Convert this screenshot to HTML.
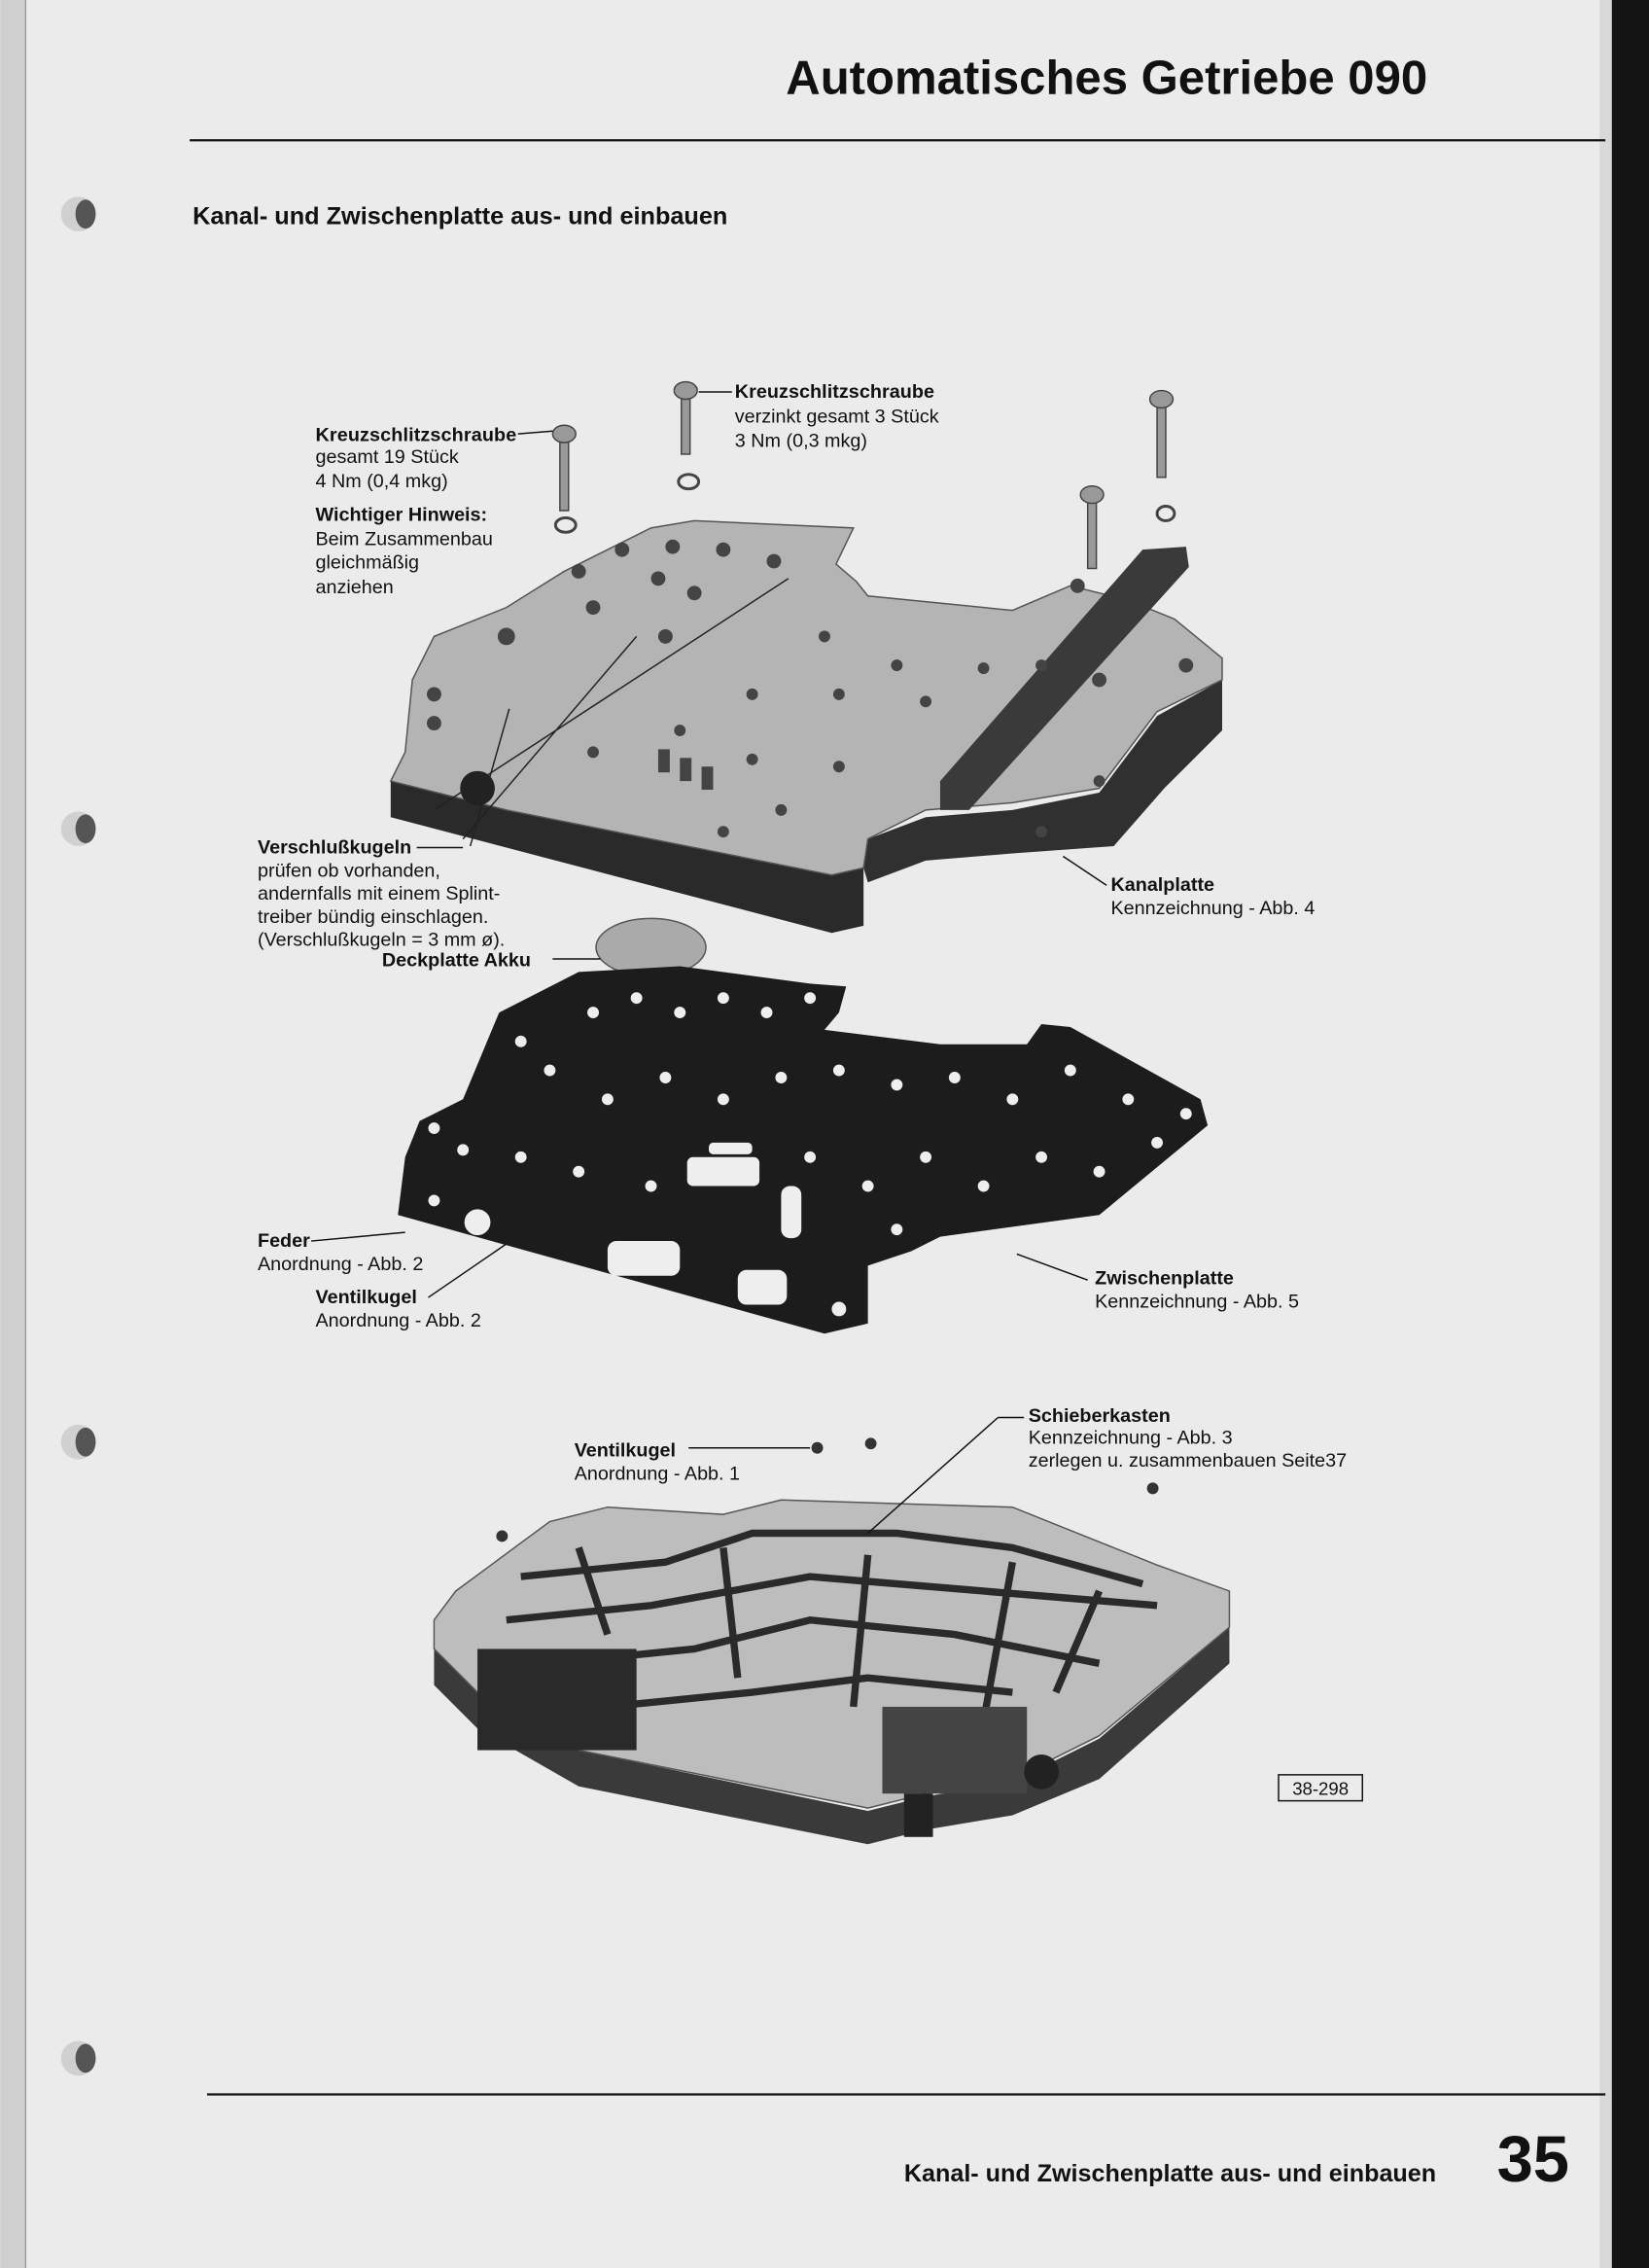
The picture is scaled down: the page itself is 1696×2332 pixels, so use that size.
<!DOCTYPE html>
<html><head><meta charset="utf-8"><style>
html,body{margin:0;padding:0;background:#e9e9e9;}
svg{display:block;}
text{font-family:"Liberation Sans",sans-serif;fill:#111;}
.b{font-weight:bold;}
</style></head><body>
<svg width="1696" height="2332" viewBox="0 0 1140 1568" xmlns="http://www.w3.org/2000/svg">
<rect x="0" y="0" width="1140" height="1568" fill="#ebebeb"/>
<rect x="0" y="0" width="17" height="1568" fill="#cfcfcf"/>
<line x1="17.5" y1="0" x2="17.5" y2="1568" stroke="#888" stroke-width="0.8"/>
<rect x="1106" y="0" width="9" height="1568" fill="#d8d8d8"/>
<rect x="1114.5" y="0" width="26" height="1568" fill="#141414"/>
<g>
<circle cx="54" cy="148" r="12" fill="#d0d0d0"/><ellipse cx="59" cy="148" rx="7" ry="10" fill="#555"/>
<circle cx="54" cy="573" r="12" fill="#d0d0d0"/><ellipse cx="59" cy="573" rx="7" ry="10" fill="#555"/>
<circle cx="54" cy="997" r="12" fill="#d0d0d0"/><ellipse cx="59" cy="997" rx="7" ry="10" fill="#555"/>
<circle cx="54" cy="1423" r="12" fill="#d0d0d0"/><ellipse cx="59" cy="1423" rx="7" ry="10" fill="#555"/>
</g>
<text x="987" y="65" text-anchor="end" class="b" font-size="33">Automatisches Getriebe 090</text>
<line x1="131" y1="97" x2="1110" y2="97" stroke="#111" stroke-width="1.5"/>
<text x="133" y="155" class="b" font-size="17">Kanal- und Zwischenplatte aus- und einbauen</text>

<polygon points="270,540 270,565 575,645 597,640 597,600 575,605" fill="#2a2a2a"/>
<polygon points="597,600 600,580 640,565 700,560 760,548 800,495 845,470 845,505 805,545 770,585 700,590 640,595 600,610" fill="#303030"/>
<polygon points="285,470 300,440 350,420 390,395 450,365 480,360 590,365 578,390 592,402 600,412 700,422 740,405 780,415 812,428 845,455 845,470 800,492 760,545 700,555 640,560 600,580 597,600 575,605 350,560 270,540 280,520" fill="#b4b4b4" stroke="#555" stroke-width="1"/>
<polygon points="790,380 820,378 822,392 670,560 650,560 650,540" fill="#3a3a3a"/>
<line x1="300" y1="560" x2="545" y2="400" stroke="#222" stroke-width="1"/>
<line x1="320" y1="580" x2="440" y2="440" stroke="#222" stroke-width="1"/>
<line x1="325" y1="585" x2="352" y2="490" stroke="#222" stroke-width="1"/>
<circle cx="330" cy="545" r="12" fill="#222"/>
<g fill="#444">
<circle cx="400" cy="395" r="5"/><circle cx="430" cy="380" r="5"/><circle cx="465" cy="378" r="5"/><circle cx="500" cy="380" r="5"/><circle cx="535" cy="388" r="5"/>
<circle cx="410" cy="420" r="5"/><circle cx="455" cy="400" r="5"/><circle cx="480" cy="410" r="5"/><circle cx="350" cy="440" r="6"/><circle cx="300" cy="480" r="5"/>
<circle cx="300" cy="500" r="5"/><circle cx="460" cy="440" r="5"/><circle cx="570" cy="440" r="4"/><circle cx="620" cy="460" r="4"/><circle cx="680" cy="462" r="4"/>
<circle cx="580" cy="480" r="4"/><circle cx="640" cy="485" r="4"/><circle cx="520" cy="480" r="4"/><circle cx="410" cy="520" r="4"/><circle cx="470" cy="505" r="4"/>
<circle cx="520" cy="525" r="4"/><circle cx="580" cy="530" r="4"/><circle cx="540" cy="560" r="4"/><circle cx="500" cy="575" r="4"/><circle cx="720" cy="460" r="4"/>
<circle cx="760" cy="470" r="5"/><circle cx="820" cy="460" r="5"/><circle cx="760" cy="540" r="4"/><circle cx="720" cy="575" r="4"/><circle cx="745" cy="405" r="5"/>
<rect x="455" y="518" width="8" height="16"/><rect x="470" y="524" width="8" height="16"/><rect x="485" y="530" width="8" height="16"/>
</g>
<g fill="#999" stroke="#444" stroke-width="1">
<rect x="387" y="305" width="6" height="48"/><ellipse cx="390" cy="300" rx="8" ry="6"/><ellipse cx="391" cy="363" rx="7" ry="5" fill="none" stroke-width="2"/>
<rect x="471" y="272" width="6" height="42"/><ellipse cx="474" cy="270" rx="8" ry="6"/><ellipse cx="476" cy="333" rx="7" ry="5" fill="none" stroke-width="2"/>
<rect x="800" y="280" width="6" height="50"/><ellipse cx="803" cy="276" rx="8" ry="6"/><ellipse cx="806" cy="355" rx="6" ry="5" fill="none" stroke-width="2"/>
<rect x="752" y="345" width="6" height="48"/><ellipse cx="755" cy="342" rx="8" ry="6"/>
</g>
<ellipse cx="450" cy="655" rx="38" ry="20" fill="#aaa" stroke="#555"/>

<polygon points="290,775 320,760 345,700 400,672 470,668 560,680 585,682 580,700 570,712 650,722 710,722 720,708 740,710 830,760 835,778 760,840 650,855 630,865 600,875 600,915 570,922 275,840 280,800" fill="#1c1c1c"/>
<g fill="#eee">
<circle cx="330" cy="845" r="9"/><circle cx="300" cy="780" r="4"/><circle cx="320" cy="795" r="4"/><circle cx="360" cy="720" r="4"/><circle cx="380" cy="740" r="4"/>
<circle cx="410" cy="700" r="4"/><circle cx="440" cy="690" r="4"/><circle cx="470" cy="700" r="4"/><circle cx="500" cy="690" r="4"/><circle cx="530" cy="700" r="4"/>
<circle cx="560" cy="690" r="4"/><circle cx="420" cy="760" r="4"/><circle cx="460" cy="745" r="4"/><circle cx="500" cy="760" r="4"/><circle cx="540" cy="745" r="4"/>
<circle cx="580" cy="740" r="4"/><circle cx="620" cy="750" r="4"/><circle cx="660" cy="745" r="4"/><circle cx="700" cy="760" r="4"/><circle cx="740" cy="740" r="4"/>
<circle cx="780" cy="760" r="4"/><circle cx="820" cy="770" r="4"/><circle cx="800" cy="790" r="4"/><circle cx="760" cy="810" r="4"/><circle cx="720" cy="800" r="4"/>
<circle cx="680" cy="820" r="4"/><circle cx="640" cy="800" r="4"/><circle cx="600" cy="820" r="4"/><circle cx="560" cy="800" r="4"/><circle cx="450" cy="820" r="4"/>
<circle cx="400" cy="810" r="4"/><circle cx="360" cy="800" r="4"/><circle cx="620" cy="850" r="4"/><circle cx="580" cy="905" r="5"/><circle cx="300" cy="830" r="4"/>
<rect x="475" y="800" width="50" height="20" rx="4"/><rect x="540" y="820" width="14" height="36" rx="6"/><rect x="420" y="858" width="50" height="24" rx="6"/><rect x="510" y="878" width="34" height="24" rx="6"/>
<rect x="490" y="790" width="30" height="8" rx="3"/>
</g>

<polygon points="300,1140 330,1170 400,1210 600,1252 640,1242 700,1232 760,1202 850,1125 850,1150 760,1230 700,1255 640,1265 600,1275 400,1235 330,1195 300,1165" fill="#3a3a3a"/>
<polygon points="300,1120 315,1100 380,1052 420,1042 500,1047 540,1037 700,1042 800,1082 850,1100 850,1125 760,1200 700,1230 640,1240 600,1250 400,1210 330,1170 300,1140" fill="#bdbdbd" stroke="#555"/>
<g stroke="#2a2a2a" stroke-width="5" fill="none">
<path d="M360,1090 L460,1080 L520,1060 L620,1060 L700,1070 L790,1095"/>
<path d="M350,1120 L450,1110 L560,1090 L680,1100 L800,1110"/>
<path d="M380,1150 L480,1140 L560,1120 L660,1130 L760,1150"/>
<path d="M420,1180 L520,1170 L600,1160 L700,1170"/>
<path d="M400,1070 L420,1130 M500,1070 L510,1160 M600,1075 L590,1180 M700,1080 L680,1190 M760,1100 L730,1170"/>
</g>
<rect x="330" y="1140" width="110" height="70" fill="#2a2a2a"/>
<rect x="610" y="1180" width="100" height="60" fill="#444"/>
<circle cx="720" cy="1225" r="12" fill="#222"/>
<rect x="625" y="1240" width="20" height="30" fill="#222"/>
<g fill="#333"><circle cx="565" cy="1001" r="4"/><circle cx="602" cy="998" r="4"/><circle cx="797" cy="1029" r="4"/><circle cx="347" cy="1062" r="4"/></g>

<g font-size="13.3">
<text x="218" y="305" class="b" textLength="139">Kreuzschlitzschraube</text>
<text x="218" y="320">gesamt 19 Stück</text>
<text x="218" y="337">4 Nm (0,4 mkg)</text>
<text x="218" y="360" class="b">Wichtiger Hinweis:</text>
<text x="218" y="377">Beim Zusammenbau</text>
<text x="218" y="393">gleichmäßig</text>
<text x="218" y="410">anziehen</text>
<line x1="358" y1="300" x2="382" y2="298" stroke="#111"/>
<text x="508" y="275" class="b" textLength="138">Kreuzschlitzschraube</text>
<text x="508" y="292">verzinkt gesamt 3 Stück</text>
<text x="508" y="309">3 Nm (0,3 mkg)</text>
<line x1="483" y1="271" x2="506" y2="271" stroke="#111"/>
<text x="178" y="590" class="b">Verschlußkugeln</text>
<line x1="288" y1="586" x2="320" y2="586" stroke="#111"/>
<text x="178" y="606">prüfen ob vorhanden,</text>
<text x="178" y="622">andernfalls mit einem Splint-</text>
<text x="178" y="638">treiber bündig einschlagen.</text>
<text x="178" y="654">(Verschlußkugeln = 3 mm ø).</text>
<text x="264" y="668" class="b">Deckplatte Akku</text>
<line x1="382" y1="663" x2="415" y2="663" stroke="#111"/>
<text x="768" y="616" class="b">Kanalplatte</text>
<text x="768" y="632">Kennzeichnung - Abb. 4</text>
<line x1="735" y1="592" x2="765" y2="612" stroke="#111"/>
<text x="178" y="862" class="b">Feder</text>
<line x1="215" y1="858" x2="280" y2="852" stroke="#111"/>
<text x="178" y="878">Anordnung - Abb. 2</text>
<text x="218" y="901" class="b">Ventilkugel</text>
<line x1="296" y1="897" x2="350" y2="860" stroke="#111"/>
<text x="218" y="917">Anordnung - Abb. 2</text>
<text x="757" y="888" class="b">Zwischenplatte</text>
<text x="757" y="904">Kennzeichnung - Abb. 5</text>
<line x1="703" y1="867" x2="752" y2="885" stroke="#111"/>
<text x="711" y="983" class="b">Schieberkasten</text>
<text x="711" y="998">Kennzeichnung - Abb. 3</text>
<text x="711" y="1014">zerlegen u. zusammenbauen Seite37</text>
<line x1="708" y1="980" x2="690" y2="980" stroke="#111"/>
<line x1="690" y1="980" x2="600" y2="1060" stroke="#111"/>
<text x="397" y="1007" class="b">Ventilkugel</text>
<line x1="476" y1="1001" x2="560" y2="1001" stroke="#111"/>
<text x="397" y="1023">Anordnung - Abb. 1</text>
<rect x="884" y="1227" width="58" height="18" fill="none" stroke="#111"/>
<text x="913" y="1241" text-anchor="middle" font-size="12.5">38-298</text>
</g>

<line x1="143" y1="1448" x2="1110" y2="1448" stroke="#111" stroke-width="1.5"/>
<text x="993" y="1508" text-anchor="end" class="b" font-size="16.9">Kanal- und Zwischenplatte aus- und einbauen</text>
<text x="1035" y="1508" class="b" font-size="45">35</text>
</svg>
</body></html>
